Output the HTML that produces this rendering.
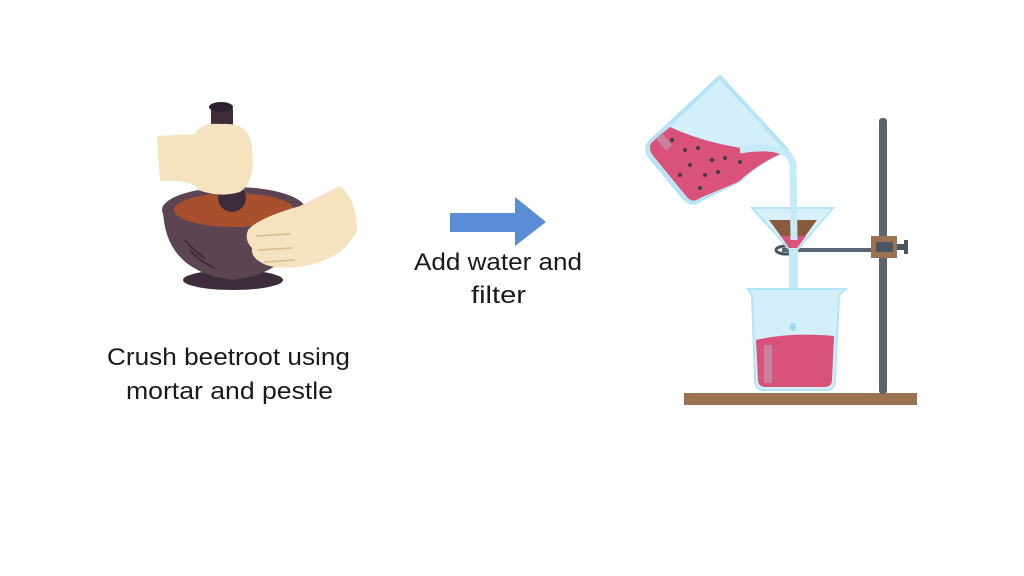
<!DOCTYPE html>
<html><head><meta charset="utf-8"><style>
html,body{margin:0;padding:0;background:#fff;}
svg{display:block}
text{font-family:"Liberation Sans",sans-serif;font-size:24.5px;fill:#1a1a1a}
</style></head><body>
<svg width="1024" height="576" viewBox="0 0 1024 576" xmlns="http://www.w3.org/2000/svg">
<rect width="1024" height="576" fill="#fff"/>
<!-- Mortar and pestle -->
<ellipse cx="233" cy="280" rx="50" ry="10" fill="#3f2c3a"/>
<path d="M163,210 Q165,272 233,280 Q300,272 305,210 Z" fill="#5b4552"/>
<ellipse cx="234" cy="210" rx="72" ry="23" fill="#5b4552"/>
<ellipse cx="234" cy="210" rx="60" ry="17" fill="#a8502e"/>
<path d="M190,250 Q200,262 215,268" stroke="#3f2c3a" stroke-width="2" fill="none"/>
<path d="M185,240 Q195,252 205,258" stroke="#3f2c3a" stroke-width="2" fill="none"/>
<ellipse cx="232" cy="198" rx="14" ry="14" fill="#3f2c3a"/>
<rect x="211" y="106" width="22" height="40" rx="4" fill="#3f2c3a"/>
<ellipse cx="221" cy="107" rx="12" ry="5" fill="#2f2030"/>
<path d="M157,136 L195,134 Q200,122 222,124 Q250,122 252,148 Q256,182 240,192 Q220,198 198,190 Q195,180 160,181 Z" fill="#f5e3c0"/>
<path d="M248,230 Q258,218 300,206 L340,186 Q357,200 357,230 Q348,252 320,262 Q290,272 266,265 Q250,258 252,248 Q244,240 248,230 Z" fill="#f5e3c0"/>
<path d="M256,236 L290,234 M258,250 L292,248 M264,262 L295,260" stroke="#d9b98c" stroke-width="1.5"/>
<!-- Arrow -->
<polygon points="450,213 515,213 515,197 546,222 515,246 515,232 450,232" fill="#5b8dd6"/>
<text x="414" y="270" textLength="168" lengthAdjust="spacingAndGlyphs">Add water and</text>
<text x="471" y="303" textLength="55" lengthAdjust="spacingAndGlyphs">filter</text>
<text x="107" y="365" textLength="243" lengthAdjust="spacingAndGlyphs">Crush beetroot using</text>
<text x="126" y="399" textLength="207" lengthAdjust="spacingAndGlyphs">mortar and pestle</text>
<!-- Stand -->
<rect x="684" y="393" width="233" height="12" fill="#9c7352"/>
<rect x="879" y="118" width="8" height="276" rx="3" fill="#5a6670"/>
<rect x="782" y="248" width="92" height="4" fill="#5a6670"/>
<ellipse cx="786" cy="250" rx="10" ry="4" fill="none" stroke="#4a5660" stroke-width="3"/>
<rect x="871" y="236" width="26" height="22" fill="#9c7352"/>
<rect x="876" y="242" width="17" height="10" fill="#4a5660"/>
<rect x="897" y="244" width="8" height="6" fill="#4a5660"/>
<rect x="904" y="240" width="4" height="14" fill="#4a5660"/>
<!-- Funnel -->
<polygon points="752,208 833,208 797,250 790,250" fill="#d6f1fb" stroke="#b5e4f6" stroke-width="2"/>
<rect x="789" y="250" width="9" height="56" fill="#c6ebf8"/>
<polygon points="769,220 817,220 798,246 788,246" fill="#8a5a3c"/>
<polygon points="781,236 806,236 797,248 789,248" fill="#d9527a"/>
<!-- Lower beaker -->
<path d="M748,289 L846,289 L839,295 L835,380 Q835,390 826,390 L764,390 Q755,390 755,380 L752,295 Z" fill="#d3effa" stroke="#b5e4f6" stroke-width="2"/>
<path d="M756,340 Q790,332 834,336 L832,380 Q832,387 824,387 L766,387 Q758,387 758,380 Z" fill="#d9527a"/>
<rect x="764" y="345" width="8" height="38" fill="#c8819e"/>
<ellipse cx="793" cy="327" rx="3" ry="4" fill="#9fd8ef"/>
<!-- Tilted beaker -->
<path d="M720,77 L787,150 Q760,160 740,180 L700,200 Q692,206 684,198 L651,158 Q643,148 652,140 Z" fill="#d3effa" stroke="#b5e4f6" stroke-width="4" stroke-linejoin="round"/>
<path d="M652,142 L670,127 Q720,150 785,152 Q760,162 738,182 L700,198 Q692,204 686,196 L654,157 Q647,149 652,142 Z" fill="#d9527a"/>
<rect x="660" y="134" width="8" height="16" fill="#c8819e" transform="rotate(-40 664 142)"/>
<g fill="#3f3a45">
<circle cx="672" cy="140" r="2"/><circle cx="685" cy="150" r="2"/><circle cx="698" cy="148" r="2"/><circle cx="712" cy="160" r="2"/><circle cx="725" cy="158" r="2"/><circle cx="690" cy="165" r="2"/><circle cx="705" cy="175" r="2"/><circle cx="718" cy="172" r="2"/><circle cx="700" cy="188" r="2"/><circle cx="740" cy="162" r="2"/><circle cx="680" cy="175" r="2"/>
</g>
<!-- Stream -->
<path d="M740,150 Q790,142 793,165 L794,240" stroke="#c6ebf8" stroke-width="7" fill="none"/>
</svg>
</body></html>
